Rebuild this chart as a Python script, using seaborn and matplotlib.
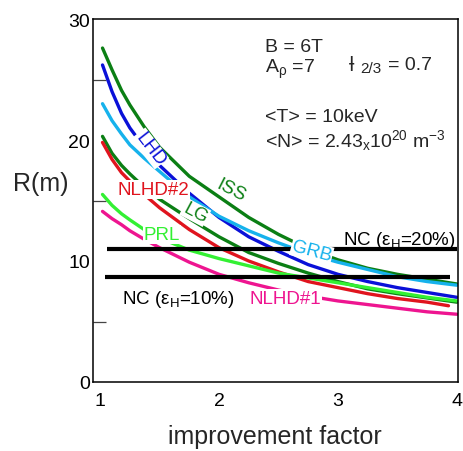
import matplotlib
matplotlib.use("Agg")
import matplotlib.pyplot as plt
import numpy as np
import pandas as pd
import seaborn as sns
from matplotlib.ticker import MultipleLocator, FixedLocator

# ---------------- data ----------------
improvement = [1.02, 1.1, 1.18, 1.25, 1.37, 1.5, 1.75, 2.0, 2.25, 2.5, 2.75, 3.0, 3.25, 3.5, 3.75, 4.0]
nlhd2_improvement = [1.02, 1.1, 1.18, 1.25, 1.37, 1.5, 1.75, 2.0, 2.25, 2.5, 2.75, 3.0, 3.25, 3.5, 3.75, 3.93]

R_ISS = [27.6, 25.8, 24.1, 22.9, 21.1, 19.4, 17.0, 15.3, 13.6, 12.2, 11.0, 10.1, 9.4, 8.9, 8.5, 8.1]
R_LHD = [26.2, 24.0, 22.2, 21.0, 19.4, 17.9, 15.6, 13.6, 12.0, 10.8, 9.7, 8.9, 8.3, 7.8, 7.4, 7.0]
R_GRB = [23.0, 21.6, 20.5, 19.6, 18.5, 17.4, 15.3, 13.7, 12.5, 11.5, 10.6, 9.9, 9.3, 8.7, 8.3, 8.0]
R_LG = [20.3, 18.9, 17.9, 17.2, 16.1, 15.1, 13.5, 12.0, 10.7, 9.8, 9.0, 8.3, 7.7, 7.3, 6.95, 6.6]
R_NLHD2 = [19.8, 18.4, 17.3, 16.6, 15.5, 14.4, 12.6, 11.1, 10.0, 9.1, 8.3, 7.8, 7.3, 6.9, 6.6, 6.3]
R_PRL = [15.5, 14.6, 13.9, 13.4, 12.6, 11.9, 10.9, 10.2, 9.6, 9.0, 8.6, 8.2, 7.8, 7.4, 7.0, 6.7]
R_NLHD1 = [14.1, 13.5, 13.0, 12.5, 11.8, 11.1, 9.9, 8.9, 8.2, 7.6, 7.1, 6.7, 6.4, 6.1, 5.8, 5.6]

schemes = ["ISS", "LHD", "GRB", "LG", "NLHD#2", "PRL", "NLHD#1"]
colors = {"ISS": "#0b7f14", "LHD": "#0a10d8", "GRB": "#16b2ec", "LG": "#0b7f14",
          "NLHD#2": "#e0141e", "PRL": "#33f033", "NLHD#1": "#ee1590"}

nc_levels = [11.0, 8.7]
nc_start = [1.06, 1.04]
nc_end = [4.0, 3.94]

x_ticks = [1, 2, 3, 4]
y_ticks = [0, 10, 20, 30]

# ---------------- table ----------------
series = {"ISS": (improvement, R_ISS), "LHD": (improvement, R_LHD),
          "GRB": (improvement, R_GRB), "LG": (improvement, R_LG),
          "NLHD#2": (nlhd2_improvement, R_NLHD2), "PRL": (improvement, R_PRL),
          "NLHD#1": (improvement, R_NLHD1)}
rows = []
for name in schemes:
    xs, ys = series[name]
    for xv, yv in zip(xs, ys):
        rows.append({"improvement": xv, "R": yv, "scheme": name})
df = pd.DataFrame(rows)

# ---------------- style ----------------
sns.set_style("white")
plt.rcParams["font.family"] = ["Liberation Sans", "DejaVu Sans"]
plt.rcParams["mathtext.fontset"] = "custom"
plt.rcParams["mathtext.rm"] = "Liberation Sans"
plt.rcParams["mathtext.it"] = "Liberation Sans"
plt.rcParams["mathtext.sf"] = "Liberation Sans"

fig = plt.figure(figsize=(4.63, 4.52), dpi=100)
ax = fig.add_axes([93 / 463, 69 / 452, 365 / 463, 363 / 452])

sns.lineplot(data=df, x="improvement", y="R", hue="scheme", hue_order=schemes,
             palette=colors, linewidth=2.4, legend=False, estimator=None,
             ax=ax, zorder=2)

ax.hlines(nc_levels, nc_start, nc_end, colors="black", linewidth=3.0, zorder=3)

ax.set_xlim(0.94, 4.01)
ax.set_ylim(0, 30)

ax.xaxis.set_major_locator(FixedLocator(x_ticks))
ax.yaxis.set_major_locator(FixedLocator(y_ticks))
ax.yaxis.set_minor_locator(MultipleLocator(5))
ax.tick_params(axis="x", which="major", direction="in", length=8, width=0.9,
               colors="#222222", labelsize=14, pad=7, labelcolor="black")
ax.tick_params(axis="y", which="both", direction="in", length=9, width=0.9,
               colors="#444444", labelsize=14, pad=2, labelcolor="black")
ax.tick_params(axis="y", which="minor", left=True)
xt = ax.xaxis.get_major_ticks()
xt[0].tick1line.set_visible(False)
xt[-1].tick1line.set_visible(False)

for s in ax.spines.values():
    s.set_visible(True)
    s.set_color("black")
    s.set_linewidth(1.1)

ax.set_xlabel("improvement factor", fontsize=18, va="center")
ax.set_ylabel("R(m)", fontsize=18, rotation=0, ha="center", va="center")
ax.xaxis.set_label_coords(0.497, -0.150)
ax.yaxis.set_label_coords(-0.142, 0.548)

box = dict(facecolor="white", edgecolor="none", pad=0.6)
fs = 13.5
ax.text(1.42, 19.3, "LHD", color=colors["LHD"], fontsize=fs, rotation=-52,
        ha="center", va="center", rotation_mode="anchor", bbox=box, zorder=4)
ax.text(2.10, 15.9, "ISS", color=colors["ISS"], fontsize=fs, rotation=-27,
        ha="center", va="center", rotation_mode="anchor", zorder=4)
ax.text(1.445, 15.9, "NLHD#2", color=colors["NLHD#2"], fontsize=fs,
        ha="center", va="center", bbox=box, zorder=4)
ax.text(1.80, 14.0, "LG", color=colors["LG"], fontsize=fs, rotation=-28,
        ha="center", va="center", rotation_mode="anchor", bbox=box, zorder=4)
ax.text(1.52, 12.2, "PRL", color=colors["PRL"], fontsize=fs,
        ha="center", va="center", bbox=box, zorder=4)
ax.text(2.78, 10.8, "GRB", color=colors["GRB"], fontsize=fs, rotation=-15,
        ha="center", va="center", rotation_mode="anchor", bbox=box, zorder=4)
ax.text(2.56, 6.9, "NLHD#1", color=colors["NLHD#1"], fontsize=fs,
        ha="center", va="center", bbox=box, zorder=4)
ax.text(3.52, 11.75, "NC (ε$_{\\mathrm{H}}$=20%)", color="black", fontsize=fs,
        ha="center", va="center", zorder=4)
ax.text(1.66, 6.9, "NC (ε$_{\\mathrm{H}}$=10%)", color="black", fontsize=fs,
        ha="center", va="center", zorder=4)

fa = 14
ax.text(2.385, 27.35, "B = 6T", fontsize=fa, ha="left", va="baseline")
ax.text(2.385, 25.65, "A$_{\\rho}$ =7", fontsize=fa, ha="left", va="baseline")
ax.text(3.09, 25.8, "ƚ", fontsize=fa, ha="left", va="baseline", family="DejaVu Sans")
ax.text(3.19, 25.6, "2/3", fontsize=11, ha="left", va="baseline")
ax.text(3.425, 25.9, "= 0.7", fontsize=fa, ha="left", va="baseline")
ax.text(2.385, 21.6, "<T> = 10keV", fontsize=fa, ha="left", va="baseline")
ax.text(2.385, 19.5, "<N> = 2.43$_{\\mathrm{x}}$10$^{20}$ m$^{-3}$", fontsize=fa,
        ha="left", va="baseline")

fig.savefig("out.png", dpi=100, facecolor="white")
